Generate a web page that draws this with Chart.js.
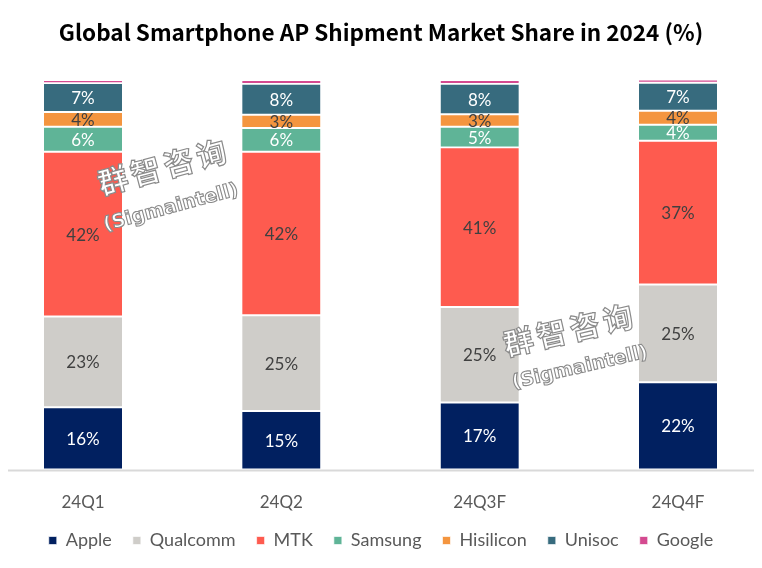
<!DOCTYPE html>
<html><head><meta charset="utf-8">
<script src="https://cdn.jsdelivr.net/npm/chart.js@4.4.1/dist/chart.umd.min.js"></script>
<style>html,body{margin:0;padding:0;background:#fff;}</style>
</head><body>
<canvas id="c" width="762" height="568"></canvas>
<script>
const categories = ['24Q1', '24Q2', '24Q3F', '24Q4F'];
const apple     = [16.0, 15.0, 17.2, 22.4];
const qualcomm  = [23.3, 24.6, 24.5, 25.1];
const mtk       = [42.3, 42.0, 41.0, 36.9];
const samsung   = [6.4, 6.1, 5.3, 4.1];
const hisilicon = [3.8, 3.4, 3.2, 3.6];
const unisoc    = [7.4, 7.9, 7.8, 7.2];
const google    = [0.8, 1.0, 1.0, 0.8];
const seriesNames = ['Apple', 'Qualcomm', 'MTK', 'Samsung', 'Hisilicon', 'Unisoc', 'Google'];
const titleText = 'Global Smartphone AP Shipment Market Share in 2024 (%)';
const yMin = 0, yMax = 100;

const seriesData = [apple, qualcomm, mtk, samsung, hisilicon, unisoc, google];
const colors = ['#012060', '#cfcdc9', '#fe5b4f', '#5fb497', '#f4953f', '#376b7e', '#d44a90'];
const labelColors = ['#ffffff', '#404040', '#404040', '#ffffff', '#404040', '#ffffff', null];

const datasets = seriesNames.map((name, i) => ({
  label: name,
  data: seriesData[i],
  backgroundColor: colors[i],
  borderColor: '#ffffff',
  borderWidth: {top: 1.3, bottom: 1.3, left: 0, right: 0},
  borderSkipped: false,
  barThickness: 78,
  clip: false,
  labelColor: labelColors[i]
}));

const decoPlugin = {
  id: 'deco',
  afterDatasetsDraw(chart) {
    const ctx = chart.ctx;
    const ca = chart.chartArea;
    ctx.save();
    ctx.strokeStyle = '#d9d9d9';
    ctx.lineWidth = 2;
    ctx.beginPath();
    ctx.moveTo(8, ca.bottom + 1);
    ctx.lineTo(754, ca.bottom + 1);
    ctx.stroke();
    ctx.restore();

    const marks = [
      {cx: 162, cy: 167, sx: 171, sy: 208, rot: -15},
      {cx: 568, cy: 330, sx: 580, sy: 368, rot: -13}
    ];
    marks.forEach(m => {
      ctx.save();
      ctx.translate(m.cx, m.cy);
      ctx.rotate(m.rot * Math.PI / 180);
      ctx.font = 'bold 30px "Noto Sans CJK SC"';
      ctx.textAlign = 'center';
      ctx.textBaseline = 'middle';
      ctx.fillStyle = '#ffffff';
      ctx.strokeStyle = '#8a8a8a';
      ctx.lineWidth = 1.2;
      ['群', '智', '咨', '询'].forEach((ch, k) => {
        const x = (k - 1.5) * 34;
        ctx.fillText(ch, x, 0);
        ctx.strokeText(ch, x, 0);
      });
      ctx.restore();
      ctx.save();
      ctx.translate(m.sx, m.sy);
      ctx.rotate(m.rot * Math.PI / 180);
      ctx.font = 'bold 19px "DejaVu Sans"';
      ctx.textAlign = 'center';
      ctx.textBaseline = 'middle';
      ctx.fillStyle = '#ffffff';
      ctx.strokeStyle = '#8a8a8a';
      ctx.lineWidth = 1.1;
      ctx.fillText('(Sigmaintell)', 0, 0);
      ctx.strokeText('(Sigmaintell)', 0, 0);
      ctx.restore();
    });

    ctx.save();
    ctx.font = '17px Lato';
    ctx.textAlign = 'center';
    ctx.textBaseline = 'middle';
    chart.data.datasets.forEach((ds, i) => {
      if (!ds.labelColor) return;
      const meta = chart.getDatasetMeta(i);
      meta.data.forEach((bar, j) => {
        const p = bar.getProps(['x', 'y', 'base'], true);
        ctx.fillStyle = ds.labelColor;
        ctx.fillText(Math.round(ds.data[j]) + '%', p.x, (p.y + p.base) / 2 + 1);
      });
    });
    ctx.restore();
  }
};

new Chart(document.getElementById('c'), {
  type: 'bar',
  data: {labels: categories, datasets},
  options: {
    responsive: false,
    animation: false,
    layout: {padding: {left: 0, right: 0, top: 0, bottom: 8.5}},
    scales: {
      x: {
        stacked: true,
        offset: false,
        grid: {display: false, drawTicks: false},
        border: {display: false},
        ticks: {color: '#595959', font: {family: 'Lato', size: 17}, padding: 23, maxRotation: 0, autoSkip: false},
        afterFit(s) { s.height = 41; }
      },
      y: {
        stacked: true,
        position: 'left',
        min: yMin,
        max: yMax,
        grid: {display: false, drawTicks: false},
        border: {display: false},
        ticks: {display: false},
        afterFit(s) { s.width = 83; }
      },
      yRight: {
        position: 'right',
        grid: {display: false, drawTicks: false},
        border: {display: false},
        ticks: {display: false},
        afterFit(s) { s.width = 84; }
      }
    },
    plugins: {
      title: {
        display: true,
        text: titleText,
        color: '#000000',
        font: {family: '"Noto Sans CJK SC"', size: 22.5, weight: 'bold'},
        padding: {top: 18.5, bottom: 34.5}
      },
      legend: {
        position: 'bottom',
        labels: {
          color: '#595959',
          font: {family: 'Lato', size: 18},
          boxWidth: 8,
          boxHeight: 8,
          padding: 21
        }
      },
      tooltip: {enabled: false}
    }
  },
  plugins: [decoPlugin]
});
</script>
</body></html>
